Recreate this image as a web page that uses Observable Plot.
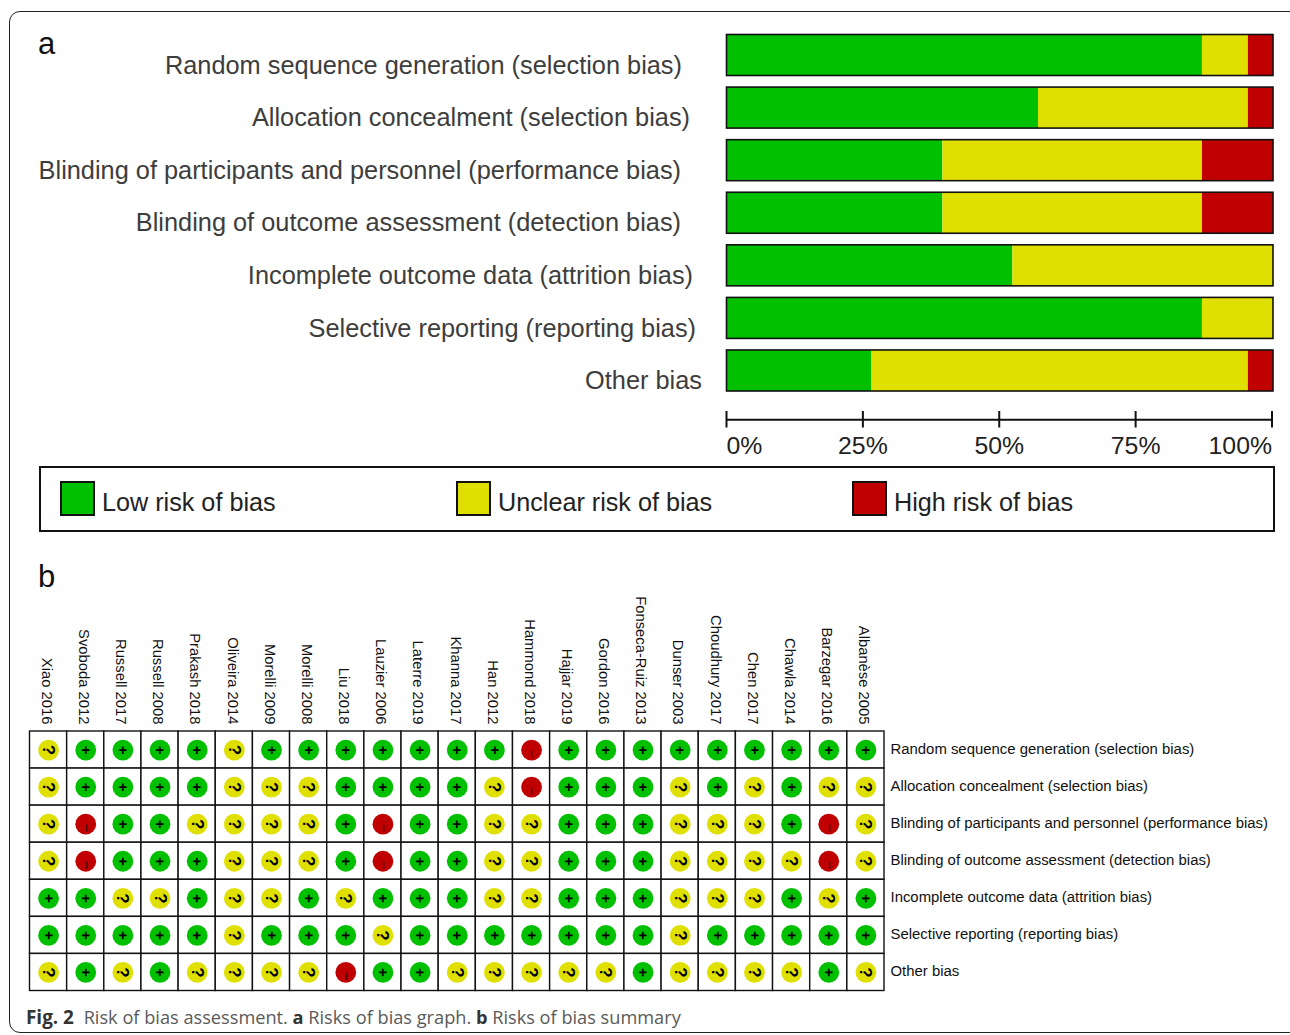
<!DOCTYPE html>
<html>
<head>
<meta charset="utf-8">
<script src="https://cdn.jsdelivr.net/npm/d3@7"></script>
<script src="https://cdn.jsdelivr.net/npm/@observablehq/plot@0.6"></script>
<style>
html,body{margin:0;padding:0;background:#fff}
#page{position:relative;width:1290px;height:1035px;overflow:hidden;font-family:"Liberation Sans",sans-serif}
#frame{position:absolute;left:9px;top:11px;width:1400px;height:1022px;border:1.5px solid #222;border-radius:11px;box-sizing:border-box}
.tag{position:absolute;left:38px;font-size:31px;color:#111;line-height:1}
#legend{position:absolute;left:39px;top:466px;width:1236px;height:66px;border:2px solid #111;box-sizing:border-box;background:#fff}
.sw{position:absolute;top:13px;width:35px;height:35px;border:2px solid #111;box-sizing:border-box}
.lt{position:absolute;top:19px;font-size:25.2px;line-height:30px;color:#222;white-space:nowrap}
#caption{position:absolute;left:26px;top:1005px;font-family:"Open Sans",sans-serif;font-size:18.2px;line-height:24px;color:#5a5a5a;white-space:nowrap}
#caption b{color:#333}
#caption b.fig{font-size:18.9px;margin-right:5px}
svg{position:absolute;left:0}
</style>
</head>
<body>
<div id="page">
  <div id="frame"></div>
  <div class="tag" style="top:28px">a</div>
  <div class="tag" style="top:561px">b</div>
  <div id="legend"></div>
  <div id="caption"><b class="fig">Fig. 2</b> Risk of bias assessment. <b>a</b> Risks of bias graph. <b>b</b> Risks of bias summary</div>
</div>
<script>
const domains = [
  "Random sequence generation (selection bias)",
  "Allocation concealment (selection bias)",
  "Blinding of participants and personnel (performance bias)",
  "Blinding of outcome assessment (detection bias)",
  "Incomplete outcome data (attrition bias)",
  "Selective reporting (reporting bias)",
  "Other bias"
];
const levels = ["Low risk of bias", "Unclear risk of bias", "High risk of bias"];
const levelColors = ["#00c000", "#e0e000", "#c00000"];
const lowPct     = [87, 57, 39.5, 39.5, 52.3, 87, 26.5];
const unclearPct = [8.4, 38.4, 47.5, 47.5, 47.7, 13, 68.9];
const highPct    = [4.6, 4.6, 13, 13, 0, 0, 4.6];
const axisTicks = [0, 25, 50, 75, 100];
const labelGaps = [45, 37, 46, 46, 34, 31, 25];
const legendLeft = [21, 417, 813];

const studies = ["Xiao 2016","Svoboda 2012","Russell 2017","Russell 2008","Prakash 2018","Oliveira 2014","Morelli 2009","Morelli 2008","Liu 2018","Lauzier 2006","Laterre 2019","Khanna 2017","Han 2012","Hammond 2018","Hajjar 2019","Gordon 2016","Fonseca-Ruiz 2013","Dunser 2003","Choudhury 2017","Chen 2017","Chawla 2014","Barzegar 2016","Albanèse 2005"];
const row1 = "?++++?++++++ +-+++++++++".replace(" ","");
const row2 = "?++++???++++ ?-+++?+?+??".replace(" ","");
const row3 = "?-++????+-++ ??+++???+-?".replace(" ","");
const row4 = "?-+++???+-++ ??+++????-?".replace(" ","");
const row5 = "++??+??+?+++ ??+++???+?+".replace(" ","");
const row6 = "+++++?+++?++ +++++?+++++".replace(" ","");
const row7 = "?+?+????-++? ????+????+?".replace(" ","");
const judgements = [row1,row2,row3,row4,row5,row6,row7];

const INK = "#111";
const base = {fontFamily:"Liberation Sans, sans-serif", background:"transparent", overflow:"visible"};
const colorOf = {"+":levelColors[0], "?":levelColors[1], "-":levelColors[2]};

/* ---------- panel a: stacked bars ---------- */
const stacked = domains.flatMap((d,i)=>[
  {domain:d, level:levels[0], pct:lowPct[i]},
  {domain:d, level:levels[1], pct:unclearPct[i]},
  {domain:d, level:levels[2], pct:highPct[i]}
]).filter(d=>d.pct>0);

const graph = Plot.plot({
  width:1290, height:400, marginLeft:726.5, marginRight:17, marginTop:34.5, marginBottom:9,
  style:{...base, top:"0px"},
  x:{domain:[0,100], axis:null},
  y:{domain:domains, axis:null, paddingInner:0.22, paddingOuter:0, round:false},
  color:{domain:levels, range:levelColors},
  marks:[
    Plot.barX(stacked,{x:"pct", y:"domain", fill:"level", order:null}),
    Plot.barX(domains,{x1:()=>0, x2:()=>100, y:d=>d, stroke:INK, strokeWidth:1.6, fill:"none"}),
    ...domains.map((d,i)=>Plot.text([d],{
      x:()=>0, y:d=>d, text:d=>d, textAnchor:"end", dx:-labelGaps[i], dy:10,
      fontSize:25.35, fill:"#3d3d3d"
    }))
  ]
});
document.getElementById("page").appendChild(graph);

const axis = Plot.plot({
  width:1290, height:28, marginLeft:726, marginRight:18.5, marginTop:11, marginBottom:0.5,
  style:{...base, top:"400px"},
  x:{domain:[0,100], axis:null},
  y:{domain:[0,1], axis:null},
  marks:[
    Plot.ruleY([0.5],{stroke:INK, strokeWidth:2}),
    Plot.ruleX(axisTicks,{x:d=>d, y1:0, y2:1, stroke:INK, strokeWidth:2}),
    Plot.text(axisTicks.slice(0,1),{x:d=>d, y:()=>0, text:d=>d+"%", textAnchor:"start", dy:18, fontSize:24.8, fill:"#222"}),
    Plot.text(axisTicks.slice(1,4),{x:d=>d, y:()=>0, text:d=>d+"%", textAnchor:"middle", dy:18, fontSize:24.8, fill:"#222"}),
    Plot.text(axisTicks.slice(4),{x:d=>d, y:()=>0, text:d=>d+"%", textAnchor:"end", dy:18, fontSize:24.8, fill:"#222"})
  ]
});
document.getElementById("page").appendChild(axis);

/* ---------- legend ---------- */
const lg = document.getElementById("legend");
levels.forEach((l,i)=>{
  const s=document.createElement("div"); s.className="sw"; s.style.left=(legendLeft[i]-2)+"px"; s.style.background=levelColors[i]; lg.appendChild(s);
  const t=document.createElement("div"); t.className="lt"; t.style.left=(legendLeft[i]+40)+"px"; t.textContent=l; lg.appendChild(t);
});

/* ---------- panel b: summary grid ---------- */
const cells = domains.flatMap((d,r)=>studies.map((s,c)=>({domain:d, study:s, j:judgements[r][c]})));
const summary = Plot.plot({
  width:1290, height:420, marginLeft:29.5, marginRight:406, marginTop:141, marginBottom:19.5,
  style:{...base, top:"590px"},
  x:{domain:studies, padding:0, round:false, axis:null},
  y:{domain:domains, padding:0, round:false, axis:null},
  marks:[
    Plot.cell(cells,{x:"study", y:"domain", fill:"white", stroke:INK, strokeWidth:1.4}),
    Plot.dot(cells,{x:"study", y:"domain", r:10.4, fill:d=>colorOf[d.j], stroke:null}),
    Plot.text(cells.filter(d=>d.j==="+"),{x:"study", y:"domain", text:"j", rotate:90, fontWeight:"bold", fontSize:15, fill:"#000"}),
    Plot.text(cells.filter(d=>d.j==="?"),{x:"study", y:"domain", text:"j", rotate:90, fontWeight:"bold", fontSize:17, fill:"#000"}),
    Plot.text(cells.filter(d=>d.j==="-"),{x:"study", y:"domain", text:()=>"\u2013", rotate:90, fontSize:13, dx:1, dy:4, fill:"#000"}),
    Plot.axisX({anchor:"top", label:null, tickSize:0, tickPadding:7, tickRotate:90, fontSize:14.8, fill:"#111", dx:-2}),
    Plot.axisY({anchor:"right", label:null, tickSize:0, tickPadding:6, fontSize:14.9, fill:"#111", tickFormat:d=>d, dy:-1})
  ]
});
document.getElementById("page").appendChild(summary);
</script>
</body>
</html>
